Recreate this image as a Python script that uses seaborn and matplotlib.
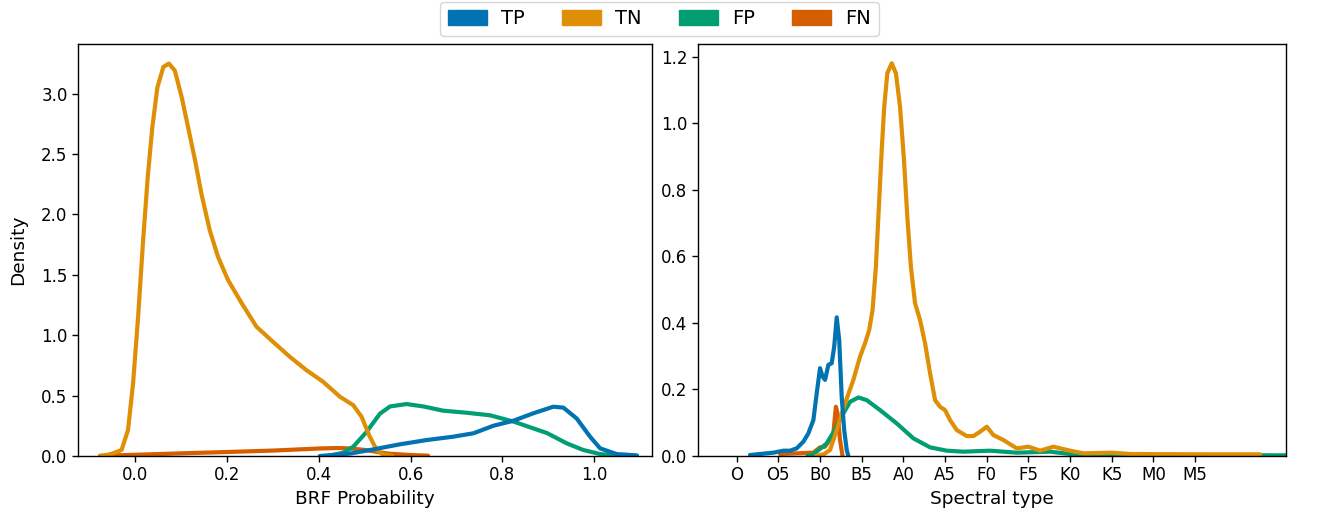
import numpy as np
import pandas as pd
import matplotlib
matplotlib.use("Agg")
import matplotlib.pyplot as plt
import seaborn as sns
from matplotlib.patches import Patch

# ---------------- data ----------------
labels = ["TP", "TN", "FP", "FN"]
colors = sns.color_palette("colorblind")
palette = {"TP": colors[0], "TN": colors[1], "FP": colors[2], "FN": colors[3]}

# Left panel: BRF probability density
brf_tn_x = [-0.075, -0.052, -0.030, -0.016, -0.005, 0.006, 0.017, 0.027, 0.037, 0.048, 0.061, 0.073,
            0.086, 0.101, 0.115, 0.130, 0.144, 0.162, 0.180, 0.202, 0.232, 0.264, 0.300, 0.337,
            0.373, 0.409, 0.446, 0.475, 0.493, 0.511, 0.526, 0.540, 0.560]
brf_tn_y = [0.0, 0.017, 0.05, 0.215, 0.60, 1.152, 1.79, 2.31, 2.72, 3.05, 3.22, 3.248,
            3.19, 2.97, 2.72, 2.45, 2.17, 1.87, 1.65, 1.456, 1.263, 1.07, 0.945, 0.82,
            0.71, 0.615, 0.49, 0.42, 0.325, 0.16, 0.05, 0.012, 0.0]
brf_fn_x = [-0.077, 0.0, 0.1, 0.2, 0.3, 0.36, 0.40, 0.44, 0.47, 0.50, 0.55, 0.60, 0.638]
brf_fn_y = [0.002, 0.01, 0.022, 0.033, 0.045, 0.055, 0.062, 0.066, 0.062, 0.05, 0.02, 0.008, 0.003]
brf_fp_x = [0.42, 0.453, 0.475, 0.504, 0.533, 0.555, 0.591, 0.628, 0.671, 0.722, 0.773, 0.824,
            0.897, 0.940, 0.976, 1.013, 1.05, 1.093]
brf_fp_y = [0.0, 0.027, 0.077, 0.20, 0.35, 0.41, 0.43, 0.41, 0.375, 0.358, 0.337, 0.285,
            0.19, 0.105, 0.05, 0.016, 0.004, 0.0]
brf_tp_x = [0.402, 0.468, 0.519, 0.577, 0.635, 0.693, 0.737, 0.780, 0.824, 0.867, 0.911, 0.933,
            0.962, 0.991, 1.013, 1.049, 1.093]
brf_tp_y = [0.0, 0.02, 0.055, 0.097, 0.132, 0.16, 0.188, 0.25, 0.292, 0.353, 0.408, 0.40,
            0.31, 0.16, 0.063, 0.016, 0.005]

# Right panel: spectral type density (numeric code, 5 units per tick)
sp_tn_x = [9.5, 10.5, 11.2, 12.0, 13.0, 14.0, 14.8, 15.4, 15.9, 16.3, 16.7, 17.1, 17.4, 17.7, 18.07,
           18.6, 19.1, 19.6, 20.07, 20.47, 20.9, 21.4, 22.0, 22.6, 23.2, 23.8, 24.4, 25.0, 25.6,
           26.4, 27.6, 28.4, 29.2, 30.0, 30.8, 32.0, 33.6, 35.0, 36.4, 38.0, 40.0, 41.6, 45.0,
           47.2, 55.0, 62.8]
sp_tn_y = [0.0, 0.006, 0.018, 0.078, 0.158, 0.229, 0.299, 0.339, 0.379, 0.439, 0.569, 0.77, 0.92,
           1.05, 1.151, 1.181, 1.151, 1.05, 0.89, 0.72, 0.569, 0.459, 0.409, 0.339, 0.249, 0.168,
           0.148, 0.138, 0.108, 0.078, 0.06, 0.06, 0.073, 0.088, 0.063, 0.048, 0.023, 0.028,
           0.016, 0.028, 0.016, 0.008, 0.01, 0.006, 0.005, 0.005]
sp_fp_x = [8.5, 9.2, 10.8, 12.0, 12.8, 13.6, 14.6, 15.6, 17.2, 19.2, 21.2, 23.2, 25.2, 27.2, 30.4,
           33.6, 37.6, 40.0, 44.6, 55.0, 66.0]
sp_fp_y = [0.0, 0.005, 0.038, 0.088, 0.128, 0.163, 0.176, 0.168, 0.138, 0.098, 0.053, 0.026, 0.016,
           0.013, 0.016, 0.01, 0.013, 0.006, 0.004, 0.003, 0.002]
sp_tp_x = [1.6, 4.4, 5.6, 6.4, 7.2, 8.0, 8.6, 9.2, 9.6, 10.0, 10.3, 10.6, 11.0, 11.4, 11.7, 12.0,
           12.3, 12.6, 12.9, 13.2, 13.4]
sp_tp_y = [0.003, 0.01, 0.016, 0.016, 0.023, 0.043, 0.068, 0.108, 0.188, 0.264, 0.239, 0.229, 0.274,
           0.279, 0.329, 0.417, 0.349, 0.178, 0.078, 0.018, 0.0]
sp_fn_x = [5.2, 9.2, 10.0, 10.6, 11.2, 11.6, 11.9, 12.1, 12.4, 12.7]
sp_fn_y = [0.006, 0.01, 0.026, 0.028, 0.05, 0.068, 0.148, 0.128, 0.048, 0.0]

brf_ticks = [0.0, 0.2, 0.4, 0.6, 0.8, 1.0]
sp_ticks = [0, 5, 10, 15, 20, 25, 30, 35, 40, 45, 50, 55]
sp_ticklabels = ["O", "O5", "B0", "B5", "A0", "A5", "F0", "F5", "K0", "K5", "M0", "M5"]


def long_df(series):
    frames = []
    for lab, (xs, ys) in series.items():
        frames.append(pd.DataFrame({"x": xs, "density": ys, "label": lab}))
    return pd.concat(frames, ignore_index=True)


left_df = long_df({"TP": (brf_tp_x, brf_tp_y), "TN": (brf_tn_x, brf_tn_y),
                   "FP": (brf_fp_x, brf_fp_y), "FN": (brf_fn_x, brf_fn_y)})
right_df = long_df({"TP": (sp_tp_x, sp_tp_y), "TN": (sp_tn_x, sp_tn_y),
                    "FP": (sp_fp_x, sp_fp_y), "FN": (sp_fn_x, sp_fn_y)})

# ---------------- figure ----------------
sns.set_style("ticks", {"axes.edgecolor": "black", "text.color": "black",
                        "xtick.color": "black", "ytick.color": "black",
                        "axes.labelcolor": "black"})
plt.rcParams["font.family"] = ["DejaVu Sans"]
plt.rcParams["lines.solid_capstyle"] = "round"
plt.rcParams["lines.solid_joinstyle"] = "round"

fig = plt.figure(figsize=(13.19, 5.2), dpi=100)
W, H = 1319, 520
ax1 = fig.add_axes([78 / W, (H - 456) / H, 574 / W, 412 / H])
ax2 = fig.add_axes([698 / W, (H - 456) / H, 588 / W, 412 / H])

draw_order = ["FN", "FP", "TN", "TP"]
for ax, df in ((ax1, left_df), (ax2, right_df)):
    sns.lineplot(data=df, x="x", y="density", hue="label", hue_order=draw_order,
                 palette=palette, lw=3, estimator=None, sort=False, legend=False, ax=ax)
    for sp in ax.spines.values():
        sp.set_visible(True)
        sp.set_color("black")
        sp.set_linewidth(1.0)
    ax.tick_params(labelsize=12, length=4, width=1, color="black", labelcolor="black")

ax1.set_xlim(-0.125, 1.126)
ax1.set_ylim(0, 3.41)
ax1.set_xticks(brf_ticks)
ax1.set_yticks([0, 0.5, 1.0, 1.5, 2.0, 2.5, 3.0])
ax1.set_xlabel("BRF Probability", fontsize=13.3)
ax1.set_ylabel("Density", fontsize=13.3, labelpad=10)

ax2.set_xlim(-4.64, 65.9)
ax2.set_ylim(0, 1.239)
ax2.set_xticks(sp_ticks)
ax2.set_xticklabels(sp_ticklabels)
ax2.set_yticks([0, 0.2, 0.4, 0.6, 0.8, 1.0, 1.2])
ax2.set_xlabel("Spectral type", fontsize=13.3)
ax2.set_ylabel("")

handles = [Patch(facecolor=palette[l], edgecolor=palette[l], label=l) for l in labels]
fig.legend(handles=handles, loc="upper center", bbox_to_anchor=(0.5, 1 - 1.7 / H),
           ncol=4, fontsize=14, borderaxespad=0, frameon=True, handletextpad=0.75,
           columnspacing=1.9, handleheight=0.8, handlelength=2.0)

fig.savefig("out.png", dpi=100)
